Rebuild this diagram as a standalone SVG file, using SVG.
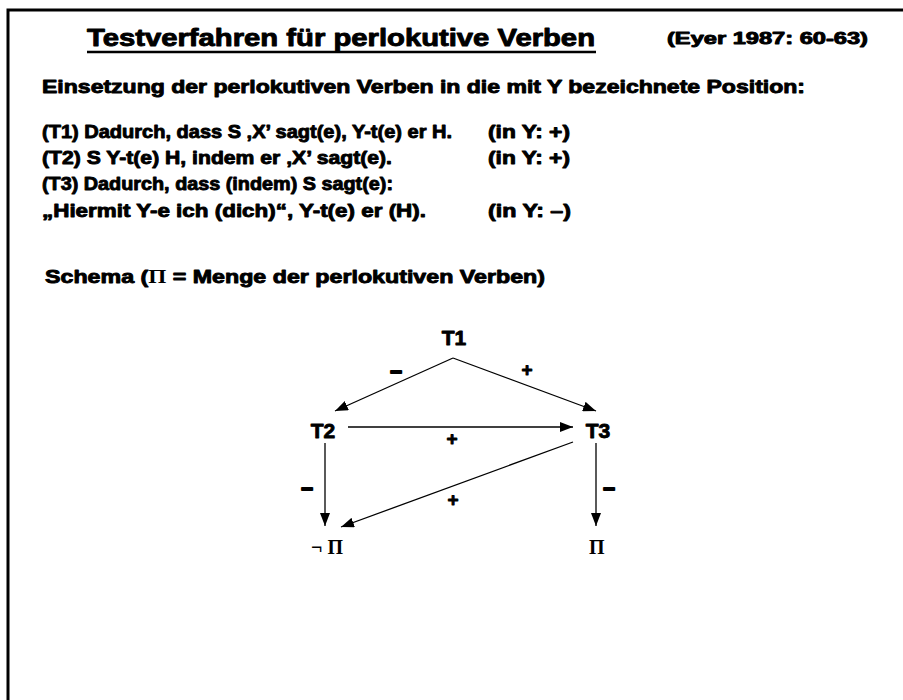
<svg xmlns="http://www.w3.org/2000/svg" width="903" height="700" viewBox="0 0 903 700">
<style>
.t{font-family:"Liberation Sans",Arial,sans-serif;font-weight:bold;fill:#000;stroke:#000;stroke-width:0.9;stroke-linejoin:round}
.s{font-family:"Liberation Serif","Times New Roman",serif;font-weight:bold}
.c{stroke:#000;stroke-width:1.3;fill:none}
.d{stroke-width:1.8}
</style>
<defs>
<marker id="ah" markerUnits="userSpaceOnUse" markerWidth="14" markerHeight="10" refX="13" refY="5" orient="auto">
<path d="M0,0 L13,5 L0,10 z" fill="#000"/>
</marker>
</defs>
<rect x="0" y="0" width="903" height="700" fill="#fff"/>
<path d="M8,720 L8,10 L920,10" fill="none" stroke="#000" stroke-width="3"/>

<g id="header">
<text class="t" x="87" y="46" font-size="24" textLength="508" lengthAdjust="spacingAndGlyphs">Testverfahren für perlokutive Verben</text>
<line x1="87" y1="52" x2="596" y2="52" stroke="#000" stroke-width="2.5"/>
<text class="t" x="667" y="44" font-size="16" textLength="201" lengthAdjust="spacingAndGlyphs">(Eyer 1987: 60-63)</text>
<text class="t" x="42" y="93" font-size="18.5" textLength="763" lengthAdjust="spacingAndGlyphs">Einsetzung der perlokutiven Verben in die mit Y bezeichnete Position:</text>
<text class="t" x="42" y="138" font-size="18.5" textLength="410" lengthAdjust="spacingAndGlyphs">(T1) Dadurch, dass S ‚X’ sagt(e), Y-t(e) er H.</text>
<text class="t" x="488" y="138" font-size="18.5" textLength="82" lengthAdjust="spacingAndGlyphs">(in Y: +)</text>
<text class="t" x="42" y="164" font-size="18.5" textLength="350" lengthAdjust="spacingAndGlyphs">(T2) S Y-t(e) H, indem er ‚X’ sagt(e).</text>
<text class="t" x="488" y="164" font-size="18.5" textLength="82" lengthAdjust="spacingAndGlyphs">(in Y: +)</text>
<text class="t" x="42" y="190" font-size="18.5" textLength="351" lengthAdjust="spacingAndGlyphs">(T3) Dadurch, dass (indem) S sagt(e):</text>
<text class="t" x="42" y="217" font-size="18.5" textLength="384" lengthAdjust="spacingAndGlyphs">„Hiermit Y-e ich (dich)“, Y-t(e) er (H).</text>
<text class="t" x="488" y="217" font-size="18.5" textLength="83" lengthAdjust="spacingAndGlyphs">(in Y: –)</text>
<text class="t" x="45" y="283" font-size="18.5" textLength="500" lengthAdjust="spacingAndGlyphs">Schema (<tspan class="s" stroke-width="0">Π</tspan> = Menge der perlokutiven Verben)</text>
</g>

<g id="connectors">
<line class="c" x1="453" y1="358" x2="335" y2="411" marker-end="url(#ah)"/>
<line class="c" x1="453" y1="358" x2="596" y2="411" marker-end="url(#ah)"/>
<line class="c" x1="348" y1="427" x2="573" y2="427" marker-end="url(#ah)"/>
<line class="c" x1="325" y1="443" x2="325" y2="526" marker-end="url(#ah)"/>
<line class="c" x1="596" y1="443" x2="596" y2="526" marker-end="url(#ah)"/>
<line class="c" x1="573" y1="442" x2="341" y2="527" marker-end="url(#ah)"/>
<text class="t d" x="396" y="377" font-size="21" text-anchor="middle">–</text>
<text class="t" x="527" y="376" font-size="19" text-anchor="middle">+</text>
<text class="t" x="452" y="445" font-size="19" text-anchor="middle">+</text>
<text class="t d" x="307" y="494" font-size="21" text-anchor="middle">–</text>
<text class="t d" x="609" y="494" font-size="21" text-anchor="middle">–</text>
<text class="t" x="453" y="506" font-size="19" text-anchor="middle">+</text>
</g>

<g id="node-T1"><text class="t" x="454" y="345" font-size="21" text-anchor="middle">T1</text></g>
<g id="node-T2"><text class="t" x="323" y="438" font-size="21" text-anchor="middle">T2</text></g>
<g id="node-T3"><text class="t" x="598" y="438" font-size="21" text-anchor="middle">T3</text></g>
<g id="node-notPi"><text class="s" x="311" y="554" font-size="20">¬ Π</text></g>
<g id="node-Pi"><text class="s" x="589" y="554" font-size="20">Π</text></g>
</svg>
